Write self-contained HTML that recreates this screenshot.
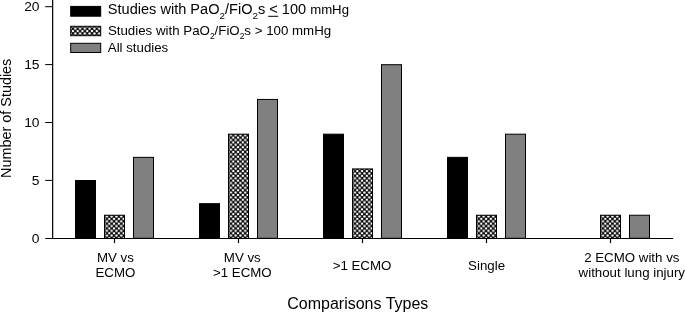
<!DOCTYPE html>
<html><head><meta charset="utf-8"><title>chart</title>
<style>
html,body{margin:0;padding:0;background:#fff;}
body{width:685px;height:312px;overflow:hidden;}
svg{display:block;filter:grayscale(1);}
text{font-family:"Liberation Sans",sans-serif;fill:#000;}
</style></head><body>
<svg width="685" height="312" viewBox="0 0 685 312">
<defs>
<pattern id="h" width="4.78" height="4.78" patternUnits="userSpaceOnUse" x="72.9" y="31.1"><rect width="4.78" height="4.78" fill="#000"/><g fill="#fff"><circle cx="0.000" cy="0.000" r="1.25"/><circle cx="4.780" cy="0.000" r="1.25"/><circle cx="0.000" cy="4.780" r="1.25"/><circle cx="4.780" cy="4.780" r="1.25"/><circle cx="2.390" cy="2.390" r="1.25"/></g></pattern>
<pattern id="h115" width="4.78" height="4.78" patternUnits="userSpaceOnUse" x="104.5" y="238.0"><rect width="4.78" height="4.78" fill="#000"/><g fill="#fff"><circle cx="0.000" cy="0.000" r="1.25"/><circle cx="4.780" cy="0.000" r="1.25"/><circle cx="0.000" cy="4.780" r="1.25"/><circle cx="4.780" cy="4.780" r="1.25"/><circle cx="2.390" cy="2.390" r="1.25"/></g></pattern>
<pattern id="h239" width="4.78" height="4.78" patternUnits="userSpaceOnUse" x="228.5" y="238.0"><rect width="4.78" height="4.78" fill="#000"/><g fill="#fff"><circle cx="0.000" cy="0.000" r="1.25"/><circle cx="4.780" cy="0.000" r="1.25"/><circle cx="0.000" cy="4.780" r="1.25"/><circle cx="4.780" cy="4.780" r="1.25"/><circle cx="2.390" cy="2.390" r="1.25"/></g></pattern>
<pattern id="h363" width="4.78" height="4.78" patternUnits="userSpaceOnUse" x="352.5" y="238.0"><rect width="4.78" height="4.78" fill="#000"/><g fill="#fff"><circle cx="0.000" cy="0.000" r="1.25"/><circle cx="4.780" cy="0.000" r="1.25"/><circle cx="0.000" cy="4.780" r="1.25"/><circle cx="4.780" cy="4.780" r="1.25"/><circle cx="2.390" cy="2.390" r="1.25"/></g></pattern>
<pattern id="h487" width="4.78" height="4.78" patternUnits="userSpaceOnUse" x="476.5" y="238.0"><rect width="4.78" height="4.78" fill="#000"/><g fill="#fff"><circle cx="0.000" cy="0.000" r="1.25"/><circle cx="4.780" cy="0.000" r="1.25"/><circle cx="0.000" cy="4.780" r="1.25"/><circle cx="4.780" cy="4.780" r="1.25"/><circle cx="2.390" cy="2.390" r="1.25"/></g></pattern>
<pattern id="h611" width="4.78" height="4.78" patternUnits="userSpaceOnUse" x="600.5" y="238.0"><rect width="4.78" height="4.78" fill="#000"/><g fill="#fff"><circle cx="0.000" cy="0.000" r="1.25"/><circle cx="4.780" cy="0.000" r="1.25"/><circle cx="0.000" cy="4.780" r="1.25"/><circle cx="4.780" cy="4.780" r="1.25"/><circle cx="2.390" cy="2.390" r="1.25"/></g></pattern>
</defs>
<rect width="685" height="312" fill="#fff"/>
<rect x="75.5" y="180.50" width="20.0" height="57.80" fill="#000" stroke="#000" stroke-width="1"/>
<rect x="104.5" y="215.24" width="20.0" height="23.06" fill="url(#h115)" stroke="#000" stroke-width="1"/>
<rect x="133.5" y="157.34" width="20.0" height="80.96" fill="#808080" stroke="#000" stroke-width="1"/>
<rect x="199.5" y="203.66" width="20.0" height="34.64" fill="#000" stroke="#000" stroke-width="1"/>
<rect x="228.5" y="134.18" width="20.0" height="104.12" fill="url(#h239)" stroke="#000" stroke-width="1"/>
<rect x="257.5" y="99.44" width="20.0" height="138.86" fill="#808080" stroke="#000" stroke-width="1"/>
<rect x="323.5" y="134.18" width="20.0" height="104.12" fill="#000" stroke="#000" stroke-width="1"/>
<rect x="352.5" y="168.92" width="20.0" height="69.38" fill="url(#h363)" stroke="#000" stroke-width="1"/>
<rect x="381.5" y="64.70" width="20.0" height="173.60" fill="#808080" stroke="#000" stroke-width="1"/>
<rect x="447.5" y="157.34" width="20.0" height="80.96" fill="#000" stroke="#000" stroke-width="1"/>
<rect x="476.5" y="215.24" width="20.0" height="23.06" fill="url(#h487)" stroke="#000" stroke-width="1"/>
<rect x="505.5" y="134.18" width="20.0" height="104.12" fill="#808080" stroke="#000" stroke-width="1"/>
<rect x="600.5" y="215.24" width="20.0" height="23.06" fill="url(#h611)" stroke="#000" stroke-width="1"/>
<rect x="629.5" y="215.24" width="20.0" height="23.06" fill="#808080" stroke="#000" stroke-width="1"/>
<g stroke="#000" stroke-width="1.2" fill="none">
<path d="M52.65 0V238.3"/>
<path d="M45.2 238.5H673.1" stroke-width="1.15"/>
<path d="M45.2 180.40H52.4" stroke-width="1"/>
<path d="M45.2 122.50H52.4" stroke-width="1"/>
<path d="M45.2 64.60H52.4" stroke-width="1"/>
<path d="M45.2 6.70H52.4" stroke-width="1"/>
<path d="M114.5 238.3V243.1"/>
<path d="M238.5 238.3V243.1"/>
<path d="M362.5 238.3V243.1"/>
<path d="M486.5 238.3V243.1"/>
<path d="M610.5 238.3V243.1"/>
</g>
<text transform="translate(39.5 242.65) scale(1.04 1)" font-size="13.3" text-anchor="end">0</text>
<text transform="translate(39.5 184.75) scale(1.04 1)" font-size="13.3" text-anchor="end">5</text>
<text transform="translate(39.5 126.85) scale(1.04 1)" font-size="13.3" text-anchor="end">10</text>
<text transform="translate(39.5 68.95) scale(1.04 1)" font-size="13.3" text-anchor="end">15</text>
<text transform="translate(39.5 11.05) scale(1.04 1)" font-size="13.3" text-anchor="end">20</text>
<text x="115.4" y="261.9" font-size="13.3" text-anchor="middle">MV vs</text>
<text x="115.4" y="277.3" font-size="13.3" text-anchor="middle">ECMO</text>
<text x="242.3" y="261.9" font-size="13.3" text-anchor="middle">MV vs</text>
<text x="242.3" y="277.3" font-size="13.3" text-anchor="middle">&gt;1 ECMO</text>
<text x="362" y="269.5" font-size="13.3" text-anchor="middle">&gt;1 ECMO</text>
<text x="486.6" y="269.5" font-size="13.3" text-anchor="middle">Single</text>
<text x="631.8" y="261.9" font-size="13.3" text-anchor="middle">2 ECMO with vs</text>
<text x="631.8" y="277.3" font-size="13.3" text-anchor="middle">without lung injury</text>
<text x="357.8" y="308.6" font-size="16" text-anchor="middle">Comparisons Types</text>
<text transform="translate(11.1 118.3) rotate(-90)" font-size="14.4" text-anchor="middle">Number of Studies</text>
<rect x="70.7" y="6.4" width="30" height="9.8" fill="#000" stroke="#000"/>
<rect x="70.7" y="26.3" width="30" height="9.4" fill="url(#h)" stroke="#000"/>
<rect x="70.7" y="43.3" width="30" height="9.2" fill="#808080" stroke="#000"/>
<text transform="translate(107.8 13.7) scale(1.06 1)" font-size="13.75">Studies with PaO<tspan font-size="9.25" dy="5.1">2</tspan><tspan dy="-5.1">/FiO</tspan><tspan font-size="9.25" dy="5.1">2</tspan><tspan dy="-5.1">s </tspan>&lt; 100 <tspan font-size="12.45">mmHg</tspan></text>
<path d="M268.2 16.3H278.2" stroke="#000" stroke-width="1"/>
<text x="107.9" y="34.55" font-size="13.3">Studies with PaO<tspan font-size="8.4" dy="4">2</tspan><tspan dy="-4">/FiO</tspan><tspan font-size="8.4" dy="4">2</tspan><tspan dy="-4">s &gt; 100 mmHg</tspan></text>
<text x="107.8" y="52.1" font-size="13.25">All studies</text>
</svg></body></html>
